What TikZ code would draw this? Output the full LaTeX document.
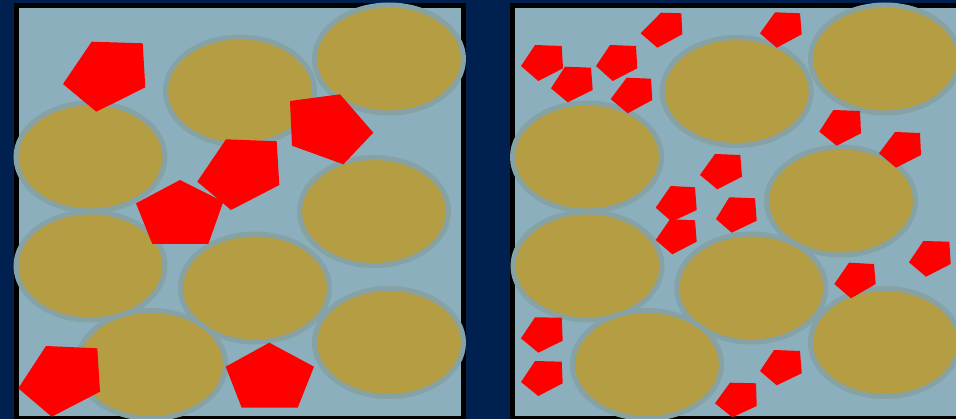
\documentclass[tikz,border=0pt]{standalone}
\definecolor{navy}{RGB}{0,32,80}
\definecolor{panelfill}{RGB}{139,175,189}
\definecolor{grainfill}{RGB}{180,157,66}
\definecolor{halo}{RGB}{134,162,164}
\tikzset{
  panel/.style={fill=panelfill, draw=black, line width=5pt},
  grain/.style={fill=grainfill, draw=halo, line width=5pt},
  pent/.style={fill=red},
}
\newcommand{\grainat}[2]{\path[grain] (#1,#2) ellipse [x radius=74.5, y radius=54];}
\begin{document}
\begin{tikzpicture}[x=1pt,y=-1pt]
\useasboundingbox (0,0) rectangle (956,419);
\fill[navy] (0,0) rectangle (956,419);
% panels
\path[panel] (16.5,5.5) rectangle (463.5,418.5);
\path[panel] (512,5.5) rectangle (959,418.5);
% left grains
\grainat{240}{91}
\grainat{389}{59}
\grainat{90.5}{157}
\grainat{374}{211.5}
\grainat{90.5}{266}
\grainat{255}{288}
\grainat{389}{342.5}
\grainat{151}{364.5}
% right grains
\grainat{736.7}{91.5}
\grainat{885}{59}
\grainat{587}{157}
\grainat{841}{201}
\grainat{587.5}{266}
\grainat{751.3}{288}
\grainat{885}{342.5}
\grainat{647}{364.5}
% left pentagons
\fill[pent] (91.7,41.7) -- (142.7,43.3) -- (145.3,87.3) -- (96.3,111.7) -- (63,84) -- cycle;
\fill[pent] (290,101) -- (340,94.3) -- (373.3,132.7) -- (343.3,164.3) -- (292,145.7) -- cycle;
\fill[pent] (180,180) -- (223.3,201.7) -- (208.3,244) -- (152.3,244) -- (136,203.3) -- cycle;
\fill[pent] (226,139.3) -- (276.7,141.3) -- (279.3,185) -- (231,210) -- (197.3,181.7) -- cycle;
\fill[pent] (46,346) -- (97.3,348.3) -- (100,391.7) -- (51.7,416.7) -- (18.3,388.3) -- cycle;
\fill[pent] (269.3,342.7) -- (314,366.7) -- (297.7,407.7) -- (241.7,407.7) -- (225.7,366.7) -- cycle;
% right pentagons
\fill[pent] (661,12.7) -- (681.3,13.3) -- (682.3,34.3) -- (657.3,47.7) -- (640.7,33.3) -- cycle;
\fill[pent] (775,12.3) -- (800,13.3) -- (801.7,34.3) -- (776.7,47.7) -- (760,33.3) -- cycle;
\fill[pent] (535,45) -- (561.7,46) -- (563,68.3) -- (538.3,81) -- (521,66) -- cycle;
\fill[pent] (610,45) -- (636,46) -- (637.3,68.3) -- (612.7,81) -- (596,66) -- cycle;
\fill[pent] (565,66.7) -- (591,67.7) -- (592.7,90) -- (567.7,102.3) -- (551,88.3) -- cycle;
\fill[pent] (626.7,77.7) -- (651,78.7) -- (652.3,100) -- (627.7,113.3) -- (610.7,99) -- cycle;
\fill[pent] (833.3,110) -- (860,111) -- (861,133.3) -- (836.7,145.7) -- (819.3,131.7) -- cycle;
\fill[pent] (895,132) -- (920,133) -- (921,155) -- (896,167.7) -- (879,153.3) -- cycle;
\fill[pent] (715,154) -- (740.3,155) -- (742,176.7) -- (717.3,189.3) -- (700,175) -- cycle;
\fill[pent] (670.7,186) -- (695,187.3) -- (696.7,210) -- (671.7,221.7) -- (655.7,207.7) -- cycle;
\fill[pent] (729.3,197.3) -- (755,198.3) -- (756.7,220.7) -- (731.7,232.7) -- (716,219) -- cycle;
\fill[pent] (670,219.3) -- (695,220.3) -- (696.7,241.7) -- (672.3,254.3) -- (655.7,240) -- cycle;
\fill[pent] (849,262.7) -- (874,264) -- (875.7,284) -- (851,298.3) -- (834.3,284) -- cycle;
\fill[pent] (923.3,241) -- (949.3,241.7) -- (950.7,264) -- (926,276.7) -- (909,262.3) -- cycle;
\fill[pent] (535,317.3) -- (561.7,317.7) -- (562.7,340.7) -- (538.3,352.7) -- (521,338.3) -- cycle;
\fill[pent] (535,361) -- (561.7,361.7) -- (562.7,383.3) -- (538.3,396) -- (521,382) -- cycle;
\fill[pent] (774,350) -- (800,351) -- (801.7,373.3) -- (776.7,385.3) -- (760,371) -- cycle;
\fill[pent] (730,382.7) -- (756,383.3) -- (756.7,406) -- (732.3,417.3) -- (715,403.3) -- cycle;
\end{tikzpicture}
\end{document}
